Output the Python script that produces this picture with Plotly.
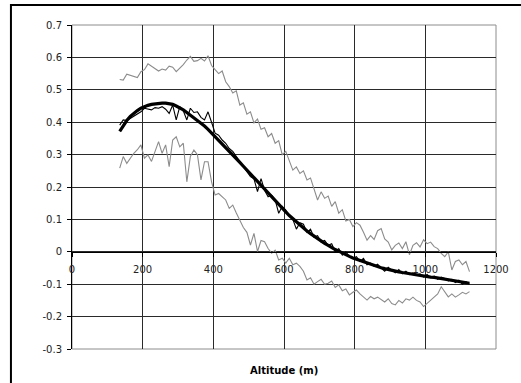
import plotly.graph_objects as go

altitude = list(range(135, 1126, 10))

upper = [0.532, 0.53, 0.548, 0.545, 0.543, 0.538, 0.556, 0.562, 0.58, 0.572,
         0.566, 0.558, 0.564, 0.561, 0.573, 0.57, 0.556, 0.566, 0.578, 0.592,
         0.603, 0.588, 0.59, 0.597, 0.589, 0.605, 0.575, 0.562, 0.55, 0.558,
         0.525, 0.51, 0.49, 0.497, 0.453, 0.46, 0.425, 0.432, 0.398, 0.41,
         0.378, 0.383, 0.355, 0.365, 0.335, 0.343, 0.3, 0.31, 0.283, 0.252,
         0.262, 0.242, 0.25, 0.222, 0.228, 0.19, 0.16, 0.185, 0.165, 0.172,
         0.14, 0.155, 0.119, 0.13, 0.095, 0.1, 0.078, 0.09, 0.082, 0.06,
         0.036, 0.05, 0.038, 0.065, 0.072, 0.04, 0.03, 0.006, 0.02, 0.027,
         0.01, 0.031, -0.009, 0.02, 0.028, 0.015, 0.037, 0.025, 0.03, 0.016,
         0.01, -0.005, -0.015, 0.0, -0.056, -0.03, -0.025, -0.04, -0.03, -0.061]

lower = [0.258, 0.294, 0.273, 0.29, 0.304, 0.315, 0.33, 0.289, 0.299, 0.279,
         0.31, 0.34, 0.304, 0.33, 0.263, 0.345, 0.355, 0.324, 0.335, 0.216,
         0.294, 0.314, 0.3, 0.222, 0.278, 0.278, 0.216, 0.175, 0.18, 0.17,
         0.16, 0.134, 0.144, 0.12, 0.098, 0.075, 0.06, 0.021, 0.057, 0.001,
         0.035, 0.031, 0.01, -0.004, 0.005, -0.025, -0.02, -0.035, -0.02, -0.04,
         -0.035, -0.045, -0.06, -0.087, -0.08, -0.1, -0.092, -0.085, -0.1, -0.097,
         -0.09, -0.11, -0.102, -0.12, -0.115, -0.133, -0.125, -0.118, -0.13, -0.14,
         -0.149, -0.138, -0.145, -0.14, -0.149, -0.155, -0.145, -0.16, -0.164, -0.15,
         -0.158, -0.145, -0.149, -0.14, -0.15, -0.155, -0.169, -0.16, -0.15, -0.139,
         -0.13, -0.108, -0.125, -0.139, -0.13, -0.14, -0.133, -0.125, -0.13, -0.123]

mean = [0.391, 0.407, 0.405, 0.412, 0.42, 0.425, 0.432, 0.443, 0.44, 0.438,
        0.445, 0.443, 0.448, 0.44, 0.427, 0.453, 0.407, 0.448, 0.435, 0.407,
        0.443, 0.43, 0.432, 0.415, 0.407, 0.432, 0.4, 0.366, 0.36, 0.345,
        0.335, 0.319, 0.31, 0.294, 0.28, 0.263, 0.25, 0.232, 0.225, 0.186,
        0.226, 0.19, 0.17, 0.175, 0.16, 0.119, 0.14, 0.129, 0.11, 0.1,
        0.07, 0.09, 0.085, 0.06, 0.07, 0.045, 0.05, 0.03, 0.035, 0.02,
        0.025, 0.0, 0.01, -0.01, 0.0, -0.015, -0.02, -0.015, -0.03, -0.02,
        -0.04, -0.035, -0.045, -0.038, -0.05, -0.06, -0.048, -0.058, -0.065, -0.055,
        -0.068, -0.06, -0.07, -0.065, -0.072, -0.068, -0.078, -0.07, -0.08, -0.075,
        -0.085, -0.078, -0.082, -0.09, -0.085, -0.095, -0.088, -0.1, -0.092, -0.1]

trend = [0.372, 0.39, 0.405, 0.418, 0.428, 0.436, 0.443, 0.448, 0.452, 0.455,
         0.457, 0.458, 0.459, 0.459, 0.458, 0.455, 0.45, 0.445, 0.438, 0.43,
         0.422, 0.414, 0.405, 0.396, 0.388, 0.378, 0.367, 0.356, 0.345, 0.334,
         0.323, 0.312, 0.3, 0.288, 0.276, 0.264, 0.252, 0.24, 0.228, 0.216,
         0.204, 0.192, 0.18, 0.168, 0.156, 0.145, 0.134, 0.123, 0.112, 0.102,
         0.092, 0.082, 0.073, 0.064, 0.056, 0.048, 0.04, 0.033, 0.026, 0.02,
         0.013, 0.007, 0.002, -0.004, -0.009, -0.014, -0.019, -0.023, -0.027, -0.031,
         -0.035, -0.039, -0.042, -0.046, -0.049, -0.052, -0.055, -0.057, -0.06, -0.062,
         -0.064, -0.066, -0.068, -0.07, -0.071, -0.073, -0.075, -0.076, -0.078, -0.079,
         -0.081, -0.082, -0.084, -0.086, -0.087, -0.089, -0.091, -0.093, -0.095, -0.097]

x_ticks = [0, 200, 400, 600, 800, 1000, 1200]
x_tick_labels = ["0", "200", "400", "600", "800", "1000", "1200"]
y_ticks = [-0.3, -0.2, -0.1, 0, 0.1, 0.2, 0.3, 0.4, 0.5, 0.6, 0.7]
y_tick_labels = ["-0.3", "-0.2", "-0.1", "0", "0.1", "0.2", "0.3", "0.4", "0.5", "0.6", "0.7"]

fig = go.Figure()
fig.add_trace(go.Scatter(x=altitude, y=upper, mode="lines",
                         line=dict(color="#8c8c8c", width=1.1)))
fig.add_trace(go.Scatter(x=altitude, y=lower, mode="lines",
                         line=dict(color="#8c8c8c", width=1.1)))
fig.add_trace(go.Scatter(x=altitude, y=mean, mode="lines",
                         line=dict(color="#000000", width=1.1)))
fig.add_trace(go.Scatter(x=altitude, y=trend, mode="lines",
                         line=dict(color="#000000", width=3.2)))

font = dict(family="DejaVu Sans", size=10, color="#222222")

fig.update_layout(
    width=521, height=383,
    margin=dict(l=72, r=19, t=25, b=34),
    paper_bgcolor="white", plot_bgcolor="white",
    showlegend=False,
    hovermode=False,
    font=font,
    xaxis=dict(range=[0, 1200], tickvals=x_ticks, ticktext=x_tick_labels,
               anchor="free", position=0.3,
               showgrid=True, gridcolor="#2a2a2a", gridwidth=1,
               zeroline=False, showline=True, linecolor="#000000", linewidth=1,
               ticks="outside", ticklen=4, tickcolor="#000000",
               ticklabelstandoff=4, tickfont=font),
    yaxis=dict(range=[-0.3, 0.7], tickvals=y_ticks, ticktext=y_tick_labels,
               showgrid=True, gridcolor="#2a2a2a", gridwidth=1,
               zeroline=False, showline=True, linecolor="#000000", linewidth=1,
               ticks="outside", ticklen=4, tickcolor="#000000",
               ticklabelstandoff=3, tickfont=font),
    shapes=[
        dict(type="rect", xref="paper", yref="paper", x0=0, x1=1, y0=0, y1=1,
             line=dict(color="#8c8c8c", width=1), layer="below"),
        dict(type="rect", xref="paper", yref="paper", x0=-0.144, x1=1.2,
             y0=-0.2, y1=1.0617, line=dict(color="#000000", width=2)),
    ],
    annotations=[
        dict(text="<b>Altitude (m)</b>", xref="paper", yref="paper",
             x=0.5, y=-0.065, xanchor="center", yanchor="middle",
             showarrow=False, font=dict(family="DejaVu Sans", size=10, color="#000000")),
    ],
)

fig.write_html("out.html", config={"displayModeBar": False, "staticPlot": True},
               post_script="document.body.style.margin='0';document.body.style.padding='0';")
